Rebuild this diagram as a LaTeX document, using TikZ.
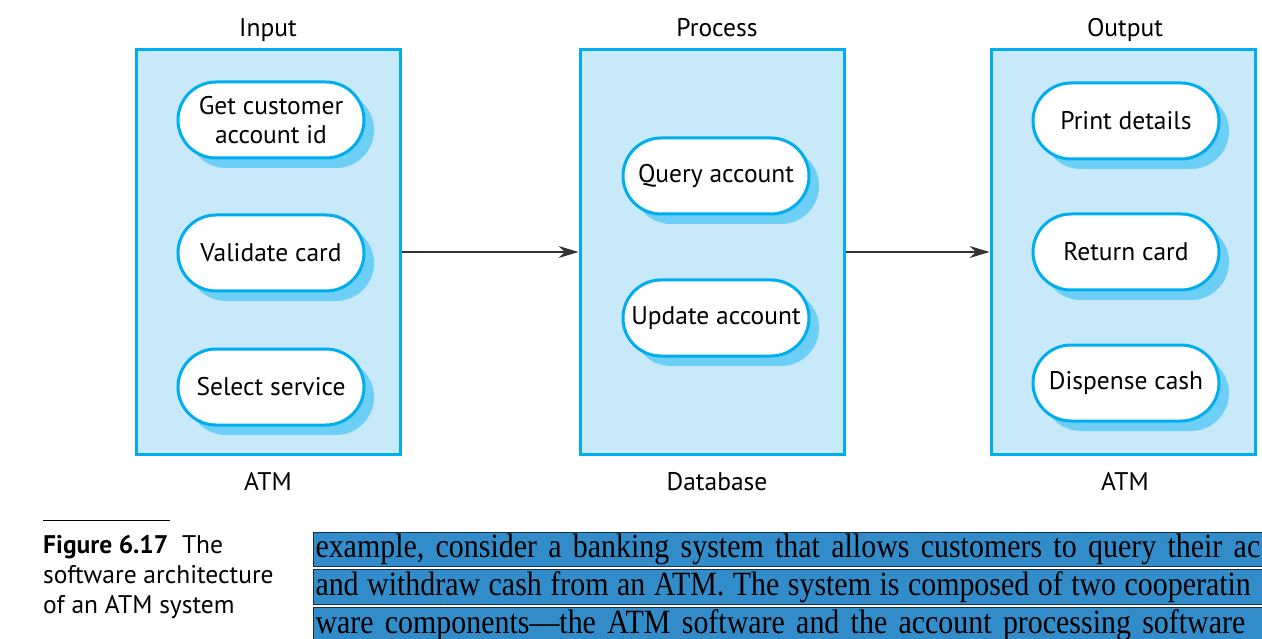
\documentclass[tikz,border=0pt]{standalone}
\usepackage{fontspec}
\setmainfont{PT Sans}
\newfontfamily\bodyfont[FakeStretch=0.88,Ligatures=TeX]{Liberation Serif}
\newcommand\tightbody{\bodyfont\fontsize{34}{36}\selectfont\spaceskip=0.2em\relax}
\usetikzlibrary{arrows.meta, positioning, shapes.misc, shadows}
\definecolor{panelfill}{RGB}{199,233,249}
\definecolor{paneledge}{RGB}{0,174,239}
\definecolor{pillshade}{RGB}{109,207,246}
\definecolor{hilite}{RGB}{50,140,201}
\definecolor{hiliteedge}{RGB}{20,50,80}
\tikzstyle{every picture} = [x=1pt, y=-1pt, font=\fontsize{25.5}{29}\selectfont]
\tikzstyle{panel} = [draw=paneledge, fill=panelfill, line width=3pt, minimum width=264pt, minimum height=405pt, inner sep=0pt]
\tikzstyle{proc} = [rounded rectangle, draw=paneledge, fill=white, line width=3pt, minimum width=190pt, minimum height=76pt, inner sep=2pt, align=center, drop shadow={shadow xshift=10pt, shadow yshift=-10pt, fill=pillshade, opacity=1}]
\tikzstyle{flow} = [-{Stealth[length=20pt, width=12pt]}, line width=1.2pt, draw=black!80]
\tikzstyle{tag} = [anchor=base, inner sep=0pt]
\tikzstyle{hiline} = [fill=hilite, draw=hiliteedge, line width=1pt, anchor=west, minimum height=34pt, text width=1100pt, inner sep=2pt, align=left, font=\tightbody]

\begin{document}
\begin{tikzpicture}
  \useasboundingbox (0,0) rectangle (1262,639);
  \clip (0,0) rectangle (1262,639);

  % the three parts
  \node (input) [panel] at (268.5,252) {};
  \node (process) [panel] at (712,252) {};
  \node (output) [panel] at (1123,252) {};

  \node (input title) [tag] at (268,37) {Input};
  \node (process title) [tag] at (717,37) {Process};
  \node (output title) [tag] at (1125,37) {Output};
  \node (input host) [tag] at (268,490) {ATM};
  \node (process host) [tag] at (717,490) {Database};
  \node (output host) [tag] at (1125,490) {ATM};

  % input
  \node (get id) [proc] at (271,120) {Get customer\\account id};
  \node (validate) [proc] at (271,253) {Validate card};
  \node (select) [proc] at (271,387) {Select service};

  % process
  \node (query) [proc] at (716,176) {Query account};
  \node (update) [proc] at (716,318) {Update account};

  % output
  \node (print) [proc] at (1126,121) {Print details};
  \node (return) [proc] at (1126,252) {Return card};
  \node (dispense) [proc] at (1126,383) {Dispense cash};

  \path (input) edge[flow] (process)
        (process) edge[flow] (output);

  % caption
  \draw[line width=1pt] (43,520) -- (170,520);
  \node (caption) [anchor=north west, align=left, inner sep=0pt, font=\fontsize{25.5}{30}\selectfont] at (43,535)
    {\textbf{Figure 6.17}\ \ The\\software architecture\\of an ATM system};

  % highlighted text lines
  \node (line one) [hiline] at (313,549.5) {example, consider a banking system that allows customers to query their ac};
  \node (line two) [hiline] at (313,587) {\spaceskip=0.25em\relax and withdraw cash from an ATM. The system is composed of two cooperatin};
  \node (line three) [hiline] at (313,625) {ware components---the ATM software and the account processing software};
\end{tikzpicture}
\end{document}
